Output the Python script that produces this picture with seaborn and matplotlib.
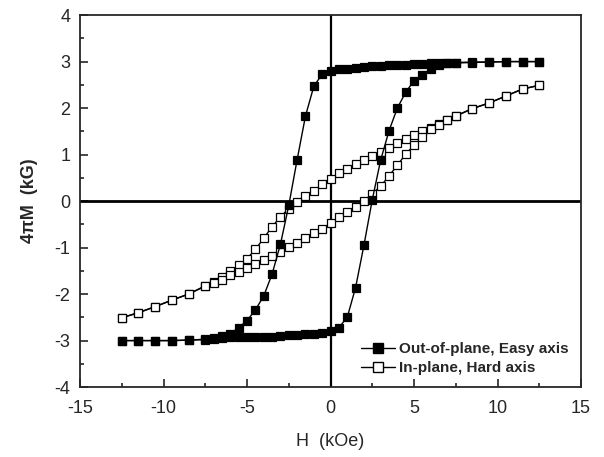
import matplotlib
matplotlib.use("Agg")
import matplotlib.pyplot as plt
import seaborn as sns
import pandas as pd
from matplotlib.lines import Line2D
from matplotlib.ticker import MultipleLocator

sns.set_style("ticks")
plt.rcParams['font.family'] = ['Liberation Sans', 'DejaVu Sans']
plt.rcParams['axes.unicode_minus'] = False

# Field values (kOe), descending sweep from +12.5 to -12.5
h_down = [12.5, 11.5, 10.5, 9.5, 8.5, 7.5, 7.0, 6.5, 6.0, 5.5, 5.0, 4.5, 4.0, 3.5,
          3.0, 2.5, 2.0, 1.5, 1.0, 0.5, 0.0, -0.5, -1.0, -1.5, -2.0, -2.5, -3.0,
          -3.5, -4.0, -4.5, -5.0, -5.5, -6.0, -6.5, -7.0, -7.5, -8.5, -9.5,
          -10.5, -11.5, -12.5]
h_up = h_down[::-1]

# Out-of-plane (easy axis), 4piM in kG
easy_down = [3.0, 3.0, 3.0, 2.99, 2.99, 2.98, 2.97, 2.97, 2.96, 2.95, 2.94, 2.93,
             2.93, 2.92, 2.91, 2.90, 2.89, 2.87, 2.85, 2.84, 2.80, 2.73, 2.47,
             1.83, 0.89, -0.09, -0.93, -1.57, -2.04, -2.34, -2.57, -2.72, -2.85,
             -2.90, -2.95, -2.97, -2.99, -3.0, -3.0, -3.0, -3.0]
easy_up = [-3.0, -3.0, -3.0, -3.0, -2.99, -2.98, -2.96, -2.94, -2.92, -2.92,
           -2.92, -2.92, -2.93, -2.93, -2.90, -2.88, -2.89, -2.86, -2.85, -2.83,
           -2.79, -2.72, -2.50, -1.86, -0.95, 0.03, 0.88, 1.51, 2.00, 2.34, 2.59,
           2.71, 2.85, 2.93, 2.96, 2.97, 2.98, 2.99, 3.0, 3.0, 3.0]

# In-plane (hard axis)
hard_down = [2.49, 2.41, 2.26, 2.11, 1.99, 1.83, 1.74, 1.66, 1.58, 1.51, 1.42,
             1.33, 1.25, 1.15, 1.06, 0.97, 0.88, 0.79, 0.69, 0.60, 0.47, 0.36,
             0.22, 0.11, -0.01, -0.16, -0.34, -0.55, -0.80, -1.04, -1.24, -1.38,
             -1.51, -1.64, -1.75, -1.82, -2.0, -2.13, -2.27, -2.40, -2.51]
hard_up = [-2.51, -2.40, -2.27, -2.13, -2.0, -1.83, -1.76, -1.70, -1.60, -1.52,
           -1.43, -1.35, -1.27, -1.18, -1.09, -0.98, -0.90, -0.80, -0.69, -0.59,
           -0.48, -0.34, -0.23, -0.12, 0.0, 0.16, 0.32, 0.54, 0.77, 1.01, 1.20,
           1.38, 1.54, 1.64, 1.74, 1.83, 1.99, 2.11, 2.26, 2.41, 2.49]

fig = plt.figure(figsize=(6.04, 4.57), dpi=100)
ax = fig.add_axes([0.1325, 0.153, 0.8295, 0.814])

ax.axhline(0, color='black', lw=2, zorder=1)
ax.axvline(0, color='black', lw=1.6, zorder=1)

branches = [
    (h_down, hard_down, 'white'),
    (h_up, hard_up, 'white'),
    (h_down, easy_down, 'black'),
    (h_up, easy_up, 'black'),
]
for hs, ms, face in branches:
    df = pd.DataFrame({'H': hs, 'M': ms})
    sns.lineplot(data=df, x='H', y='M', sort=False, estimator=None, ax=ax,
                 color='black', lw=1, marker='s', markersize=6.3,
                 markerfacecolor=face, markeredgecolor='black',
                 markeredgewidth=0.9, zorder=3)

ax.set_xlim(-15, 15)
ax.set_ylim(-4, 4)
ax.xaxis.set_major_locator(MultipleLocator(5))
ax.xaxis.set_minor_locator(MultipleLocator(2.5))
ax.yaxis.set_major_locator(MultipleLocator(1))
ax.yaxis.set_minor_locator(MultipleLocator(0.5))
ax.tick_params(which='both', direction='in', labelsize=13, width=1.2)
ax.tick_params(which='major', length=6)
ax.tick_params(which='minor', length=3)
ax.tick_params(axis='x', pad=9)
ax.tick_params(axis='y', pad=7)
for s in ax.spines.values():
    s.set_linewidth(1.3)

ax.set_xlabel('H  (kOe)', fontsize=13, labelpad=12)
ax.set_ylabel('4πM  (kG)', fontsize=13, fontweight='bold', labelpad=12)

handles = [
    Line2D([], [], color='black', lw=1, marker='s', markersize=7,
           markerfacecolor='black', markeredgecolor='black'),
    Line2D([], [], color='black', lw=1, marker='s', markersize=7,
           markerfacecolor='white', markeredgecolor='black'),
]
ax.legend(handles, ['Out-of-plane, Easy axis', 'In-plane, Hard axis'],
          loc='lower right', frameon=False, numpoints=1, handlelength=2.2,
          handletextpad=0.3, labelspacing=0.3, borderaxespad=0.4,
          prop={'weight': 'bold', 'size': 11})

plt.savefig('out.png', dpi=100)
